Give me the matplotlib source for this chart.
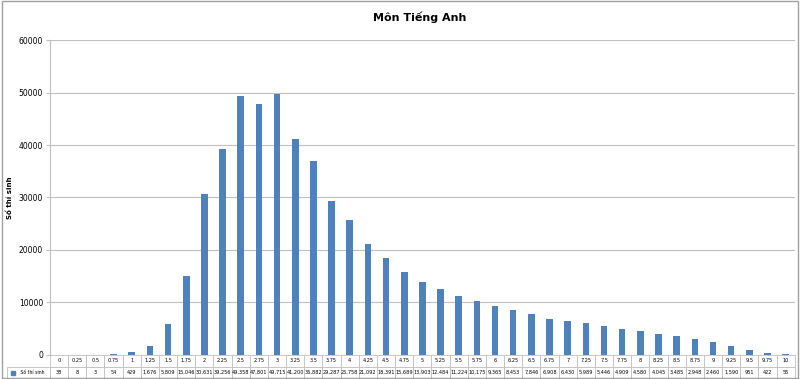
import matplotlib
matplotlib.use('Agg')
import matplotlib.pyplot as plt
import matplotlib.patches as mpatches
import numpy as np

# --- DATA ---
scores = ['0', '0.25', '0.5', '0.75', '1', '1.25', '1.5', '1.75', '2', '2.25', '2.5', '2.75',
          '3', '3.25', '3.5', '3.75', '4', '4.25', '4.5', '4.75', '5', '5.25', '5.5', '5.75',
          '6', '6.25', '6.5', '6.75', '7', '7.25', '7.5', '7.75', '8', '8.25', '8.5', '8.75',
          '9', '9.25', '9.5', '9.75', '10']
counts = [38, 8, 3, 54, 429, 1676, 5809, 15046, 30631, 39256, 49358, 47801,
          49715, 41200, 36882, 29287, 25758, 21092, 18391, 15689, 13903, 12484, 11224, 10175,
          9365, 8453, 7846, 6908, 6430, 5989, 5446, 4909, 4580, 4045, 3485, 2948,
          2460, 1590, 951, 422, 55]
y_ticks = [0, 10000, 20000, 30000, 40000, 50000, 60000]
series_name = 'Số thí sinh'
title = 'Môn Tiếng Anh'

bar_color = '#4F81BD'
grid_color = '#BFBFBF'

fig = plt.figure(figsize=(8, 3.79), dpi=100)
ax = fig.add_axes([0.0625, 0.064, 0.931, 0.83])

x = np.arange(len(scores))
ax.bar(x, counts, width=0.36, color=bar_color, zorder=3)
ax.set_xlim(-0.5, len(scores) - 0.5)
ax.set_ylim(0, 60000)
ax.set_yticks(y_ticks)
ax.set_yticklabels([str(v) for v in y_ticks], fontsize=5.5)
ax.tick_params(axis='y', length=3, color=grid_color, pad=2)
ax.set_xticks([])
ax.grid(axis='y', color=grid_color, linewidth=0.8, zorder=0)
for side in ['top', 'right', 'bottom']:
    ax.spines[side].set_visible(False)
ax.spines['left'].set_color(grid_color)

ax.set_ylabel(series_name, fontsize=5, fontweight='bold')
ax.yaxis.set_label_coords(-0.05, 0.5)
fig.text(0.525, 0.955, title, ha='center', va='center', fontsize=8, fontweight='bold')

# --- data table below the plot ---
label_w = 43 / (0.931 * 800)
cell_text = [[''] + scores, [series_name] + [f'{c:,}' for c in counts]]
col_w = [label_w] + [1 / len(scores)] * len(scores)
tab = ax.table(cellText=cell_text, colWidths=col_w, cellLoc='center',
               bbox=[-label_w, -0.075, 1 + label_w, 0.075])
tab.auto_set_font_size(False)
tab.set_fontsize(3.6)
for (r, c), cell in tab.get_celld().items():
    cell.set_edgecolor(grid_color)
    cell.set_linewidth(0.6)
    if r == 0 and c == 0:
        cell.visible_edges = ''
    if r == 1 and c == 0:
        cell.get_text().set_text('     ' + series_name)
        cell.get_text().set_fontsize(3.3)

# legend key in label cell
ax.plot([-label_w + 0.008], [-0.0565], marker='s', markersize=2.2, color=bar_color,
        transform=ax.transAxes, clip_on=False)

# outer frame
fig.patches.append(mpatches.Rectangle((0.003, 0.003), 0.994, 0.994, transform=fig.transFigure,
                                      fill=False, edgecolor='#A0A0A0', linewidth=1))

fig.savefig('out.png', dpi=100)
